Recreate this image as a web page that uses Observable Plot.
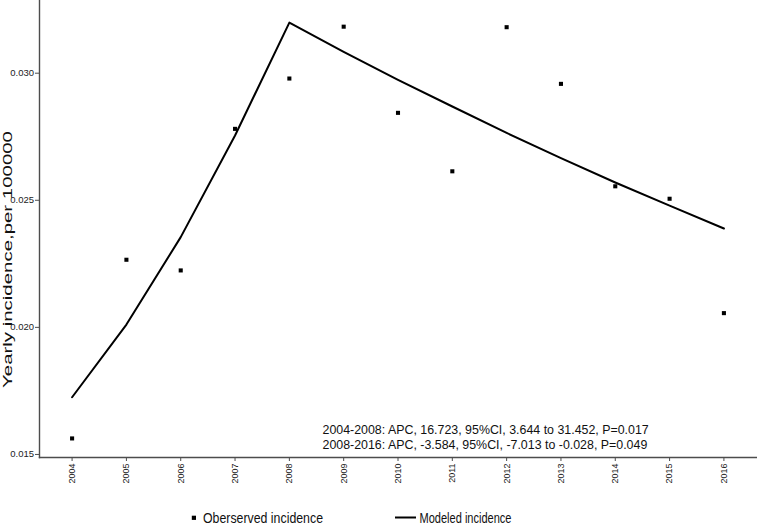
<!DOCTYPE html>
<html>
<head>
<meta charset="utf-8">
<script src="https://cdn.jsdelivr.net/npm/d3@7"></script>
<script src="https://cdn.jsdelivr.net/npm/@observablehq/plot@0.6"></script>
<style>
  html, body { margin: 0; padding: 0; background: #fff; }
  #chart svg { display: block; }
</style>
</head>
<body>
<div id="chart"></div>
<script>
// ---- data ----
const years = [2004, 2005, 2006, 2007, 2008, 2009, 2010, 2011, 2012, 2013, 2014, 2015, 2016];
const observed = [0.01563, 0.02266, 0.02224, 0.02781, 0.02979, 0.03183, 0.02844, 0.02614, 0.03181, 0.02958, 0.02555, 0.02506, 0.02056];
const modeled  = [0.01725, 0.02011, 0.02355, 0.02755, 0.03199, 0.03084, 0.02974, 0.02869, 0.02765, 0.02666, 0.02570, 0.02479, 0.02389];
const yTicks = [0.015, 0.020, 0.025, 0.030];
const yTitle = "Yearly incidence,per 100000";
const annotation = [
  "2004-2008: APC, 16.723, 95%CI, 3.644 to 31.452, P=0.017",
  "2008-2016: APC, -3.584, 95%CI, -7.013 to -0.028, P=0.049"
];
const legendLabels = ["Oberserved incidence", "Modeled incidence"];

const obsData = years.map((y, i) => ({year: y, value: observed[i]}));
const modData = years.map((y, i) => ({year: y, value: modeled[i]}));

const axisColor = "#4d4d4d";
const font = "'Liberation Sans', Arial, sans-serif";

const chart = Plot.plot({
  width: 757,
  height: 495,
  marginTop: 0,
  marginBottom: 38,
  marginLeft: 39,
  marginRight: 1,
  style: {fontFamily: font, background: "#fff", color: "#222"},
  x: {domain: [2003.4, 2016.6], ticks: years, tickFormat: d => String(d)},
  y: {domain: [0.01488, 0.03286], ticks: yTicks, tickFormat: d3.format(".3f")},
  marks: [
    Plot.frame({anchor: "left", stroke: axisColor, strokeWidth: 1.4}),
    Plot.frame({anchor: "bottom", stroke: axisColor, strokeWidth: 1.4}),
    Plot.axisY({ticks: yTicks, tickFormat: d3.format(".3f"), tickSize: 4, tickPadding: 1.5, fontSize: 9.5, stroke: axisColor, label: null}),
    Plot.axisX({ticks: years, tickFormat: d => String(d), tickSize: 4, tickPadding: 2, tickRotate: -90, fontSize: 9, stroke: axisColor, label: null}),
    Plot.line(modData, {x: "year", y: "value", stroke: "#000", strokeWidth: 2}),
    Plot.dot(obsData, {x: "year", y: "value", symbol: "square", r: 2.3, fill: "#000", stroke: "none"}),
    Plot.text([annotation.join("\n")], {frameAnchor: "bottom-left", textAnchor: "start", lineAnchor: "middle", dx: 283, dy: -21, lineHeight: 1.27, fontSize: 12.4, fill: "#111"}),
    Plot.text([yTitle], {frameAnchor: "left", rotate: -90, fontSize: 13, fill: "#111", className: "ytitle"})
  ]
});
document.getElementById("chart").appendChild(chart);

// place and stretch the y title along its length like the reference
const tg = chart.querySelector(".ytitle");
if (tg) {
  tg.removeAttribute("transform");
  const t = tg.querySelector("text");
  if (t) {
    t.removeAttribute("x"); t.removeAttribute("y");
    t.setAttribute("text-anchor", "middle");
    const natural = t.getComputedTextLength() || 165;
    const sx = 257 / natural;
    t.setAttribute("transform", `translate(11.5,259.5) rotate(-90) scale(${sx},1)`);
  }
}

// ---- legend below ----
const leg = d3.select("#chart").append("svg")
  .attr("width", 757).attr("height", 30)
  .style("display", "block")
  .style("font-family", "'Liberation Sans Narrow', 'Arial Narrow', " + font);
leg.append("rect").attr("x", 191.8).attr("y", 20.7).attr("width", 4.2).attr("height", 4.2).attr("fill", "#000");
leg.append("text").attr("x", 203).attr("y", 22.7).attr("dy", "0.35em")
  .attr("font-size", 14.5).attr("fill", "#111")
  .attr("textLength", 120).attr("lengthAdjust", "spacingAndGlyphs")
  .text(legendLabels[0]);
leg.append("line").attr("x1", 395).attr("x2", 416).attr("y1", 22.5).attr("y2", 22.5)
  .attr("stroke", "#000").attr("stroke-width", 2);
leg.append("text").attr("x", 419.5).attr("y", 22.5).attr("dy", "0.35em")
  .attr("font-size", 14.5).attr("fill", "#111")
  .attr("textLength", 92).attr("lengthAdjust", "spacingAndGlyphs")
  .text(legendLabels[1]);
</script>
</body>
</html>
